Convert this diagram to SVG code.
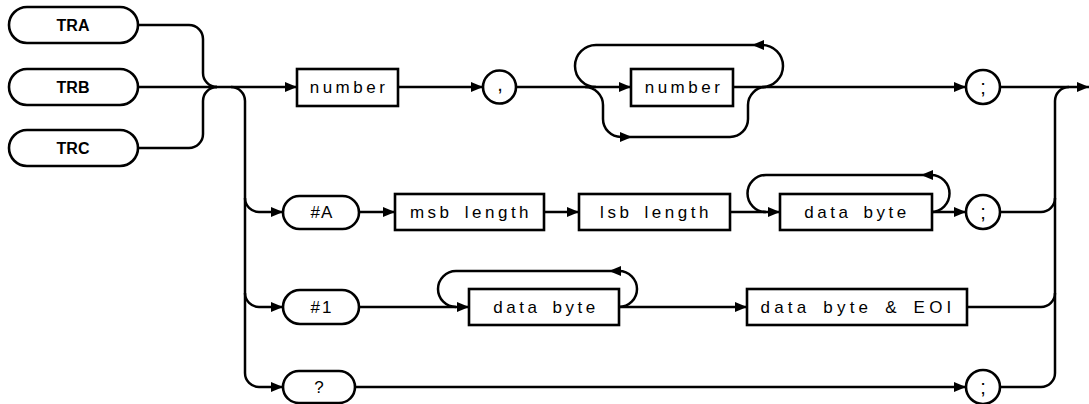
<svg xmlns="http://www.w3.org/2000/svg" width="1089" height="404" viewBox="0 0 1089 404">
<defs>
<marker id="ah" markerUnits="userSpaceOnUse" markerWidth="13" markerHeight="11" refX="12" refY="5.5" orient="auto">
<path d="M0,0.5 L12,5.5 L0,10.5 z" fill="#000"/>
</marker>
<style>
.s{fill:#fff;stroke:#000;stroke-width:2.6}
.c path{fill:none;stroke:#000;stroke-width:2.5}
.a{marker-end:url(#ah)}
.t{font-family:"Liberation Sans",Arial,sans-serif;font-size:17px;text-anchor:middle;letter-spacing:3.5px;word-spacing:4px}
.p{font-family:"Liberation Sans",Arial,sans-serif;font-size:20px;text-anchor:middle}
.b{font-family:"Liberation Sans",Arial,sans-serif;font-size:16px;font-weight:bold;text-anchor:middle}
</style>
</defs>
<rect width="1089" height="404" fill="#fff"/>
<g class="c" id="connectors">
<path d="M138,25 H189 A14,14 0 0 1 203,39 V73 A14,14 0 0 0 217,87"/>
<path d="M138,148 H189 A14,14 0 0 0 203,134 V101 A14,14 0 0 1 217,87"/>
<path class="a" d="M138,87 H297"/>
<path class="a" d="M398,87 H483"/>
<path class="a" d="M516,87 H631"/>
<path class="a" d="M762,87 A21,21 0 0 0 762,45 H752"/>
<path d="M752,45 H596 A21,21 0 0 0 596,87"/>
<path class="a" d="M585,87 A18,18 0 0 1 603,105 V119 A18,18 0 0 0 621,137 H632"/>
<path d="M632,137 H730 A18,18 0 0 0 748,119 V105 A18,18 0 0 1 766,87"/>
<path class="a" d="M733,87 H966"/>
<path class="a" d="M1000,87 H1089"/>
<path d="M1055,373 V101 A14,14 0 0 1 1069,87"/>
<path class="a" d="M231,87 A14,14 0 0 1 245,101 V373 A14,14 0 0 0 259,387 H283"/>
<path class="a" d="M245,198 A14,14 0 0 0 259,212 H283"/>
<path class="a" d="M245,293 A14,14 0 0 0 259,307 H283"/>
<path class="a" d="M359,212 H395"/>
<path class="a" d="M544,212 H579"/>
<path class="a" d="M730,212 H780"/>
<path class="a" d="M932,212 H966"/>
<path class="a" d="M931,212 A18.5,18.5 0 0 0 931,175 H921"/>
<path d="M921,175 H766 A18.5,18.5 0 0 0 766,212"/>
<path d="M1000,212 H1041 A14,14 0 0 0 1055,198"/>
<path class="a" d="M359,307 H469"/>
<path class="a" d="M619,307 A18,18 0 0 0 619,271 H609"/>
<path d="M609,271 H456 A18,18 0 0 0 456,307"/>
<path class="a" d="M619,307 H747"/>
<path d="M967,307 H1041 A14,14 0 0 0 1055,293"/>
<path class="a" d="M355,387 H966"/>
<path d="M1000,387 H1041 A14,14 0 0 0 1055,373"/>
</g>
<g id="tra"><rect class="s" x="9" y="7" width="129" height="36" rx="18"/><text class="b" x="73" y="31">TRA</text></g>
<g id="trb"><rect class="s" x="9" y="69" width="129" height="36" rx="18"/><text class="b" x="73" y="93">TRB</text></g>
<g id="trc"><rect class="s" x="9" y="130" width="129" height="36" rx="18"/><text class="b" x="73" y="154">TRC</text></g>
<g id="number1"><rect class="s" x="297" y="69" width="101" height="37"/><text class="t" x="349" y="93">number</text></g>
<g id="comma"><circle class="s" cx="499.5" cy="87" r="16.5"/><text class="p" x="500" y="91">,</text></g>
<g id="number2"><rect class="s" x="631" y="69" width="102" height="37"/><text class="t" x="684" y="93">number</text></g>
<g id="semi1"><circle class="s" cx="983" cy="87" r="17"/><text class="p" x="983" y="94">;</text></g>
<g id="hashA"><rect class="s" x="283" y="196" width="76" height="33" rx="16.5"/><text class="t" x="322" y="218" style="letter-spacing:1px">#A</text></g>
<g id="msb"><rect class="s" x="395" y="194" width="149" height="36"/><text class="t" x="471" y="218">msb length</text></g>
<g id="lsb"><rect class="s" x="579" y="194" width="151" height="36"/><text class="t" x="656" y="218">lsb length</text></g>
<g id="databyte1"><rect class="s" x="780" y="194" width="152" height="36"/><text class="t" x="857" y="218">data byte</text></g>
<g id="semi2"><circle class="s" cx="983" cy="212" r="17"/><text class="p" x="983" y="219">;</text></g>
<g id="hash1"><rect class="s" x="283" y="290" width="76" height="34" rx="17"/><text class="t" x="322" y="313" style="letter-spacing:2px">#1</text></g>
<g id="databyte2"><rect class="s" x="469" y="289" width="150" height="36"/><text class="t" x="546" y="313">data byte</text></g>
<g id="databyteeoi"><rect class="s" x="747" y="289" width="220" height="36"/><text class="t" x="858" y="313" style="letter-spacing:4.2px">data byte &amp; EOI</text></g>
<g id="query"><rect class="s" x="283" y="371" width="72" height="32" rx="16"/><text class="p" x="319" y="393" style="font-size:17px">?</text></g>
<g id="semi3"><circle class="s" cx="983" cy="387" r="17"/><text class="p" x="983" y="394">;</text></g>
</svg>
